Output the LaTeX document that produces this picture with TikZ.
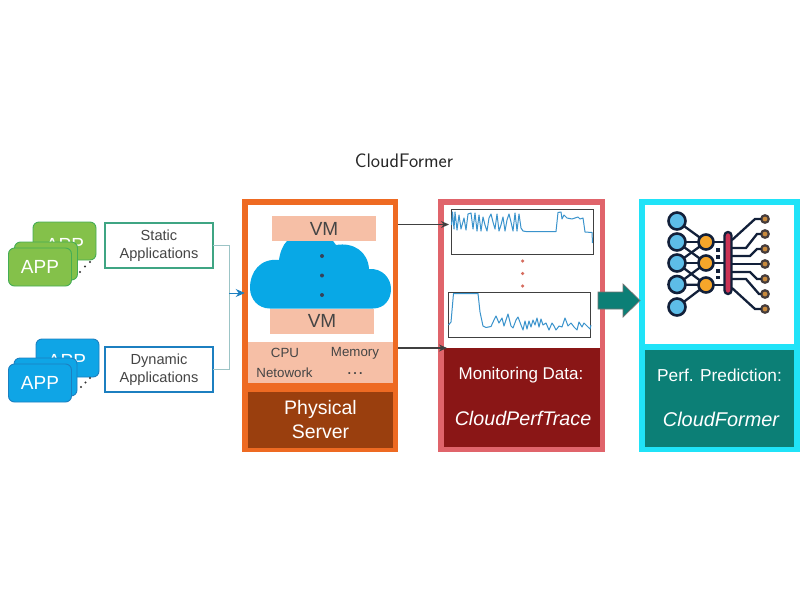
\documentclass[tikz,border=0pt]{standalone}
\usepackage{fontspec}
\setmainfont{Liberation Sans}
\usetikzlibrary{arrows.meta}
\definecolor{appgreen}{HTML}{84C14A}
\definecolor{appgreenb}{HTML}{45AD55}
\definecolor{statb}{HTML}{3FA583}
\definecolor{appblue}{HTML}{0FA5E6}
\definecolor{appblueb}{HTML}{1C7FC0}
\definecolor{cloudblue}{HTML}{08A8E6}
\definecolor{orangeF}{HTML}{EE6A22}
\definecolor{brownF}{HTML}{9A3F0E}
\definecolor{peach}{HTML}{F6BFA6}
\definecolor{redF}{HTML}{E0646B}
\definecolor{darkred}{HTML}{8A1616}
\definecolor{cyanF}{HTML}{20E3F8}
\definecolor{tealF}{HTML}{0C7F76}
\definecolor{txt}{HTML}{454545}
\definecolor{netd}{HTML}{12203A}
\definecolor{plotl}{HTML}{3A93CC}
\definecolor{conn}{HTML}{9CC4C6}
\definecolor{inblue}{HTML}{5DBDE8}
\definecolor{midor}{HTML}{F6A62A}
\definecolor{outor}{HTML}{C98A3C}
\definecolor{barred}{HTML}{CB3355}
\tikzset{
  box/.style={draw=none,rectangle,inner sep=0pt,outer sep=0pt},
  appcard/.style={rectangle,rounded corners=6pt,line width=0.9pt,inner sep=0pt,outer sep=0pt,
     minimum width=63pt,minimum height=38pt,text=white,font=\fontsize{19}{19}\selectfont},
  gcard/.style={appcard,fill=appgreen,draw=appgreenb},
  bcard/.style={appcard,fill=appblue,draw=appblueb},
  applabel/.style={rectangle,fill=white,line width=1.4pt,inner sep=0pt,outer sep=0pt,
     minimum width=108pt,minimum height=45pt,align=center,text=txt,
     font=\fontsize{14.6}{18}\selectfont},
  frame/.style={rectangle,fill=white,line width=5.5pt,inner sep=0pt,outer sep=0pt},
  vm/.style={box,fill=peach,minimum width=104pt,minimum height=25pt,text=txt,font=\fontsize{19}{19}\selectfont},
  res/.style={text=txt,inner sep=0pt,font=\fontsize{13.3}{14}\selectfont},
  caption/.style={box,align=center,text=white},
  plotbox/.style={box,draw=black!75,line width=0.8pt,fill=white,minimum width=142pt,minimum height=45pt},
  dotm/.style={circle,inner sep=0pt,minimum size=4pt},
  inn/.style={circle,draw=netd,line width=2.6pt,fill=inblue,minimum size=17pt,inner sep=0pt,outer sep=0pt},
  mid/.style={circle,draw=netd,line width=2.6pt,fill=midor,minimum size=15pt,inner sep=0pt,outer sep=0pt},
  outn/.style={circle,draw=netd!70!brown,line width=2.2pt,fill=outor,minimum size=7.5pt,inner sep=0pt,outer sep=0pt},
  wire/.style={draw=netd,line width=2.3pt},
  feed/.style={draw=conn,line width=1pt},
  mon/.style={draw=black!75,line width=1.1pt,-{Stealth[length=8pt,width=7pt]}},
}
\begin{document}
\begin{tikzpicture}[x=1pt,y=-1pt]
\useasboundingbox (0,0) rectangle (800,600);
\node[inner sep=0pt,font=\sffamily\fontsize{19.6}{20}\selectfont,text=black!85] (title) at (404,161) {CloudFormer};

% app cards
\node[gcard] (g3) at (64.5,241) {};
\node[text=white,inner sep=0pt,font=\fontsize{19}{19}\selectfont] (g3t) at (65,245) {APP};
\node[gcard] (g2) at (46,261) {};
\node[gcard] (g1) at (40,267) {APP};
\foreach \n/\x/\y in {gd1/80/272,gd2/85/266.5,gd3/90/262}{\node[dotm,fill=black!80,minimum size=2.4pt] (\n) at (\x,\y) {};}
\node[bcard] (b3) at (67.5,358) {};
\node[text=white,inner sep=0pt,font=\fontsize{19}{19}\selectfont] (b3t) at (67,361) {APP};
\node[bcard] (b2) at (45.5,377) {};
\node[bcard] (b1) at (40,383) {APP};
\foreach \n/\x/\y in {bd1/81/387,bd2/85.5/382.5,bd3/90/378}{\node[dotm,fill=black!80,minimum size=2.4pt] (\n) at (\x,\y) {};}

\node[applabel,draw=statb] (static) at (159,245.5) {\raisebox{-2pt}{Static}\\\raisebox{-2pt}{Applications}};
\node[applabel,draw=appblueb] (dynamic) at (159,369.5) {\raisebox{-2pt}{Dynamic}\\\raisebox{-2pt}{Applications}};

% physical server
\node[frame,draw=orangeF,minimum width=150.5pt,minimum height=247pt] (server) at (320,325.5) {};
\node[vm] (vm1) at (324,228.5) {VM};
\node[vm] (vm2) at (322,321) {VM};
\fill[cloudblue] (270,308.5) .. controls (258,308.5) and (250,299) .. (250,288)
  .. controls (250,272) and (260,258) .. (279,260)
  .. controls (280,252) and (283,245) .. (287,241)
  -- (333,241) -- (336,245)
  .. controls (354,242) and (368,252) .. (369,269)
  .. controls (382,268) and (391,278) .. (391,289)
  .. controls (391,300) and (384,308.5) .. (373,308.5) -- cycle;
\foreach \n/\y in {d1/256,d2/275.5,d3/295}{\node[dotm,fill=netd!85] (\n) at (322,\y) {};}
\node[box,fill=peach,minimum width=145pt,minimum height=41.5pt] (res) at (320.5,362.5) {};
\node[box,fill=orangeF,minimum width=145pt,minimum height=9pt] (gap) at (320.5,387.5) {};
\node[res] (cpu) at (285,352.5) {CPU};
\node[res] (mem) at (355,353.5) {Memory};
\node[res] (net) at (284.5,372.5) {Netowork};
\node[res,font=\fontsize{18}{18}\selectfont] (more) at (355,374) {\dots};
\node[caption,fill=brownF,minimum width=145pt,minimum height=56pt,font=\fontsize{19.5}{24}\selectfont] (srvcap) at (320.5,420) {Physical\\Server};

% monitoring
\node[frame,draw=redF,minimum width=161.5pt,minimum height=247pt] (monitor) at (521.5,325.5) {};
\node[plotbox] (p1) at (522,232) {};
\node[plotbox] (p2) at (519.5,314.5) {};
\draw[plotl,line width=1pt,line join=round]
 (451.5,225) -- (452.5,212) -- (454,229) -- (455,212) -- (457,230) -- (459,215) -- (461,229) -- (464,218) -- (466,230) -- (468,214) -- (471,213) -- (473,229) -- (475,213) -- (477,231) -- (479,215) -- (481,231) -- (483,217) -- (485,225) -- (487,231) -- (489,218) -- (491,214) -- (493,222) -- (495,229) -- (497,214) -- (499,231) -- (501,225) -- (503,217) -- (505,231) -- (507,220) -- (509,214) -- (511,222) -- (513,231) -- (515,213) -- (517,231) -- (519,214) -- (521,228) -- (523,231) -- (526,231.5) -- (556,231.5) -- (558,212.5) -- (561,212) -- (562,219) -- (564,215) -- (567,218) -- (572,219) -- (575,218) -- (578,217) -- (580,219) -- (583,218) -- (585,232) -- (592,232.5) -- (592.5,243);
\draw[plotl,line width=1pt,line join=round]
 (448.5,325) -- (451,322) -- (453.5,293.5) -- (478,293.5) -- (480,312) -- (483,326) -- (486,327.5) -- (491,326.5) -- (494,320) -- (496,316) -- (499,323) -- (502,318) -- (504,326) -- (506,320) -- (508,314) -- (511,326) -- (513,328) -- (516,320) -- (518,317) -- (521,325) -- (523,330) -- (525,321) -- (527,329) -- (529,321) -- (531,327) -- (533,320) -- (535,325) -- (537,318) -- (539,327) -- (541,319) -- (543,325) -- (546,323) -- (549,330) -- (552,323) -- (554,326) -- (556,330) -- (559,326) -- (562,327) -- (565,318) -- (568,326) -- (571,323) -- (574,327) -- (577,330) -- (579,322) -- (582,327) -- (584,323) -- (587,326) -- (590,329) -- (591,325);
\foreach \n/\y in {m1/261,m2/273.5,m3/286}{\node[dotm,fill=redF!70!brown,minimum size=3.5pt] (\n) at (522.5,\y) {};}
\node[caption,fill=darkred,minimum width=156pt,minimum height=99pt] (moncap) at (522,397.5) {};
\node[inner sep=0pt,text=white,font=\fontsize{17}{17}\selectfont] (mont) at (521,375) {Monitoring Data:};
\node[inner sep=0pt,text=white,font=\itshape\fontsize{19.7}{20}\selectfont] (monn) at (523,418) {CloudPerfTrace};

% prediction
\node[frame,draw=cyanF,minimum width=155pt,minimum height=247pt] (pred) at (719.5,325.5) {};
\node[box,fill=cyanF,minimum width=150pt,minimum height=6pt] (predsep) at (719.5,347) {};
\node[caption,fill=tealF,minimum width=149pt,minimum height=97pt] (predcap) at (719.5,398.5) {};
\node[inner sep=0pt,text=white,font=\fontsize{17.3}{17}\selectfont] (predt) at (719.5,375) {Perf. Prediction:};
\node[inner sep=0pt,text=white,font=\itshape\fontsize{19.9}{20}\selectfont] (predn) at (721,419) {CloudFormer};

% network icon
\foreach \n/\y in {i1/221,i2/242,i3/263,i4/284.5,i5/307}{\node[inn] (\n) at (677,\y) {};}
\foreach \n/\y in {h1/242,h2/263,h3/285}{\node[mid] (\n) at (706,\y) {};}
\node[rectangle,rounded corners=3.5pt,draw=netd,line width=2.3pt,fill=barred,minimum width=7pt,minimum height=62pt,inner sep=0pt,outer sep=0pt] (bar) at (728,263) {};
\foreach \n/\y in {o1/219,o2/234,o3/249,o4/264,o5/279,o6/294,o7/309}{\node[outn] (\n) at (765,\y) {};}
\foreach \a/\b in {i1/h1,i2/h1,i2/h2,i3/h1,i3/h2,i3/h3,i4/h2,i4/h3,i5/h3}{\draw[wire] (\a) -- (\b);}
\foreach \h in {h1,h2,h3}{\draw[wire] (\h) -- (\h -| bar.west);}
\foreach \n/\y in {s1/250,s2/257,s3/271,s4/277.5}{\node[rectangle,fill=netd,inner sep=0pt,minimum size=3.5pt] (\n) at (718,\y) {};}
\draw[wire] (732,240) -- (755,219) -- (o1);
\draw[wire] (732,248) -- (746,248) -- (757,234) -- (o2);
\draw[wire] (732,256) -- (750,256) -- (757,249) -- (o3);
\draw[wire] (bar.east |- o4) -- (o4);
\draw[wire] (732,272) -- (750,272) -- (757,279) -- (o5);
\draw[wire] (732,279) -- (746,279) -- (759,294) -- (o6);
\draw[wire] (732,288) -- (755,309) -- (o7);

% connectors
\coordinate (junc) at (229,293);
\coordinate (a1s) at (398,224.5);
\coordinate (a1e) at (449,224.5);
\coordinate (a2s) at (398,348);
\coordinate (a2e) at (447,348);
\draw[feed] (static.east) -| (junc);
\draw[feed] (dynamic.east) -| (junc);
\draw[draw=appblueb,line width=1pt,-{Stealth[length=9pt,width=8pt]}] (junc) -- (junc -| server.west);
\draw[mon] (a1s) -- (a1e);
\draw[mon] (a2s) -- (a2e);
\draw[fill=tealF,draw=black!55,line width=0.7pt] (598,292) -- (623,292) -- (623,284) -- (640,300.5) -- (623,317) -- (623,309) -- (598,309) -- cycle;
\end{tikzpicture}
\end{document}
